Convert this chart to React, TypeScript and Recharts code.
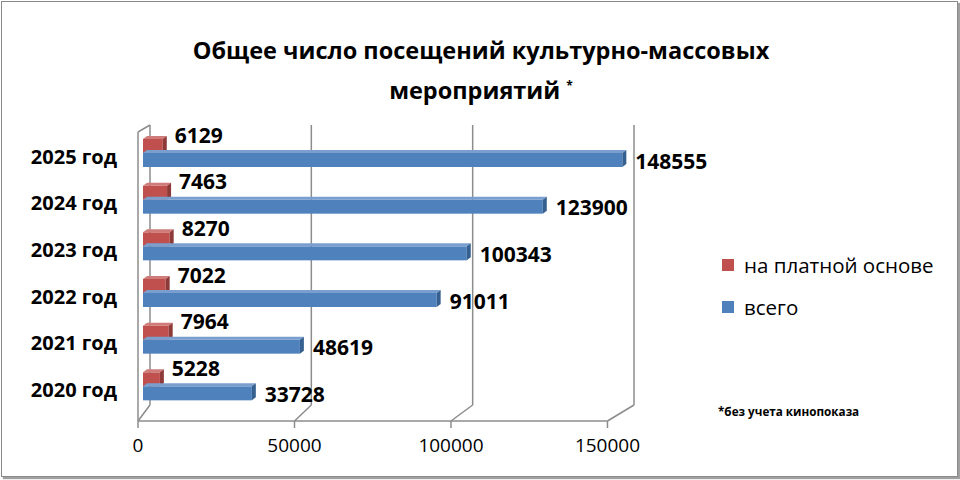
import React from 'react';
import { BarChart, Bar, XAxis, YAxis, CartesianGrid, Legend, LabelList } from 'recharts';

const YEARS = ['2020 год', '2021 год', '2022 год', '2023 год', '2024 год', '2025 год'];
const PAID = [5228, 7964, 7022, 8270, 7463, 6129];
const TOTAL = [33728, 48619, 91011, 100343, 123900, 148555];
const X_TICKS = [0, 50000, 100000, 150000];
const X_MAX = 150000;

const SERIES = [
  { key: 'paid', name: 'на платной основе', color: '#C0504D', top: '#CF7B79', side: '#8E3A38' },
  { key: 'total', name: 'всего', color: '#4F81BD', top: '#7A9FCF', side: '#36608F' },
];

const data = YEARS.map((year, i) => ({ year, paid: PAID[i], total: TOTAL[i] }));

const FONT = '"Open Sans", "DejaVu Sans", sans-serif';
const PLOT_LEFT = 143;
const FRONT_LEFT = 138;
const FRONT_RATIO = 0.97;
const FRONT_Y = 421;
const BACK_BOTTOM = 405;
const DX = 4;
const DY = 3;

const Box3D = (props: any) => {
  const { x, y, width, height, fill, top, side } = props;
  if (!width || width <= 0) return null;
  const r = x + width;
  return (
    <g>
      <rect x={x} y={y} width={width} height={height} fill={fill} />
      <polygon points={`${x},${y} ${x + DX},${y - DY} ${r + DX},${y - DY} ${r},${y}`} fill={top} />
      <polygon points={`${r},${y} ${r + DX},${y - DY} ${r + DX},${y + height - DY} ${r},${y + height}`} fill={side} />
    </g>
  );
};

const frontX = (x: number) => FRONT_LEFT + (x - PLOT_LEFT) * FRONT_RATIO;

const XTick = (props: any) => {
  const { x, payload } = props;
  const xf = frontX(x);
  const xb = x + 7;
  const last = frontX(PLOT_LEFT + 484);
  return (
    <g>
      {payload.value === 0 && (
        <g stroke="#8c8c8c" strokeWidth={1.5} fill="none">
          <line x1={FRONT_LEFT} y1={FRONT_Y} x2={last} y2={FRONT_Y} />
          <line x1={FRONT_LEFT} y1={132} x2={FRONT_LEFT} y2={FRONT_Y} />
          <line x1={FRONT_LEFT} y1={132} x2={xb} y2={125} />
        </g>
      )}
      <g stroke="#8c8c8c" strokeWidth={1.5}>
        <line x1={xb} y1={BACK_BOTTOM} x2={xf} y2={FRONT_Y} />
        <line x1={xf} y1={FRONT_Y} x2={xf} y2={FRONT_Y + 7} />
      </g>
      <text x={xf} y={447} textAnchor="middle" dominantBaseline="middle" fontFamily={FONT} fontSize={19} fill="#000">
        {payload.value}
      </text>
    </g>
  );
};

const YTick = (props: any) => {
  const { x, y, payload } = props;
  return (
    <text x={x} y={y + 5} textAnchor="end" dominantBaseline="middle" fontFamily={FONT} fontWeight="bold" fontSize={20} fill="#000">
      {payload.value}
    </text>
  );
};

const paidLabel = (p: any) => (
  <text x={p.x + p.width + 12} y={p.y + p.height / 2 - 9} dominantBaseline="middle" fontFamily={FONT} fontWeight="bold" fontSize={21} fill="#000">
    {p.value}
  </text>
);

const totalLabel = (p: any) => (
  <text x={p.x + p.width + 13} y={p.y + p.height / 2 + 3} dominantBaseline="middle" fontFamily={FONT} fontWeight="bold" fontSize={21} fill="#000">
    {p.value}
  </text>
);

const LegendBox = () => (
  <div style={{ fontFamily: FONT, fontSize: 20.5, color: '#000' }}>
    {SERIES.map((s) => (
      <div key={s.key} style={{ display: 'flex', alignItems: 'center', height: 42 }}>
        <span style={{ width: 12, height: 12, background: s.color, marginRight: 10, display: 'inline-block' }} />
        {s.name}
      </div>
    ))}
  </div>
);

const gridX = ({ offset }: any) => X_TICKS.map((t) => offset.left + (offset.width * t) / X_MAX + 7);

export default function App() {
  return (
    <div style={{ position: 'absolute', left: 0, top: 0, width: 960, height: 480, background: '#fff' }}>
      <div
        style={{
          position: 'absolute', left: 1, top: 1, width: 955, height: 474,
          border: '1px solid #8a8a8a', boxShadow: '2px 2px 1px #a0a0a0',
        }}
      />
      <div
        style={{
          position: 'absolute', left: 0, top: 33, width: 962, textAlign: 'center',
          fontFamily: FONT, fontWeight: 'bold', fontSize: 23.5, lineHeight: '35px', color: '#000',
        }}
      >
        Общее число посещений культурно-массовых
        <br />
        мероприятий <sup style={{ fontSize: 12 }}>*</sup>
      </div>
      <div style={{ position: 'absolute', left: 718, top: 403, fontFamily: FONT, fontWeight: 'bold', fontSize: 11.7, color: '#000' }}>
        *без учета кинопоказа
      </div>
      <div style={{ position: 'absolute', left: 0, top: 0 }}>
        <BarChart
          width={960}
          height={480}
          data={data}
          layout="vertical"
          margin={{ top: 130, right: 333, bottom: 40, left: 33 }}
          barGap={0}
          barSize={14}
        >
          <CartesianGrid
            horizontal={false}
            stroke="#8c8c8c"
            strokeWidth={1.5}
            y={125}
            height={280}
            verticalCoordinatesGenerator={gridX}
          />
          <XAxis
            type="number"
            domain={[0, X_MAX]}
            ticks={X_TICKS}
            axisLine={false}
            tickLine={false}
            height={30}
            tick={<XTick />}
            interval={0}
          />
          <YAxis
            type="category"
            dataKey="year"
            reversed
            width={110}
            axisLine={false}
            tickLine={false}
            tickSize={0}
            tickMargin={26}
            tick={<YTick />}
          />
          <Legend
            layout="vertical"
            align="center"
            verticalAlign="middle"
            wrapperStyle={{ left: 722, top: 244, width: 236 }}
            content={<LegendBox />}
          />
          <Bar
            dataKey="paid"
            name={SERIES[0].name}
            fill={SERIES[0].color}
            isAnimationActive={false}
            shape={(p: any) => <Box3D {...p} top={SERIES[0].top} side={SERIES[0].side} />}
          >
            <LabelList dataKey="paid" content={paidLabel} />
          </Bar>
          <Bar
            dataKey="total"
            name={SERIES[1].name}
            fill={SERIES[1].color}
            isAnimationActive={false}
            shape={(p: any) => <Box3D {...p} top={SERIES[1].top} side={SERIES[1].side} />}
          >
            <LabelList dataKey="total" content={totalLabel} />
          </Bar>
        </BarChart>
      </div>
    </div>
  );
}
